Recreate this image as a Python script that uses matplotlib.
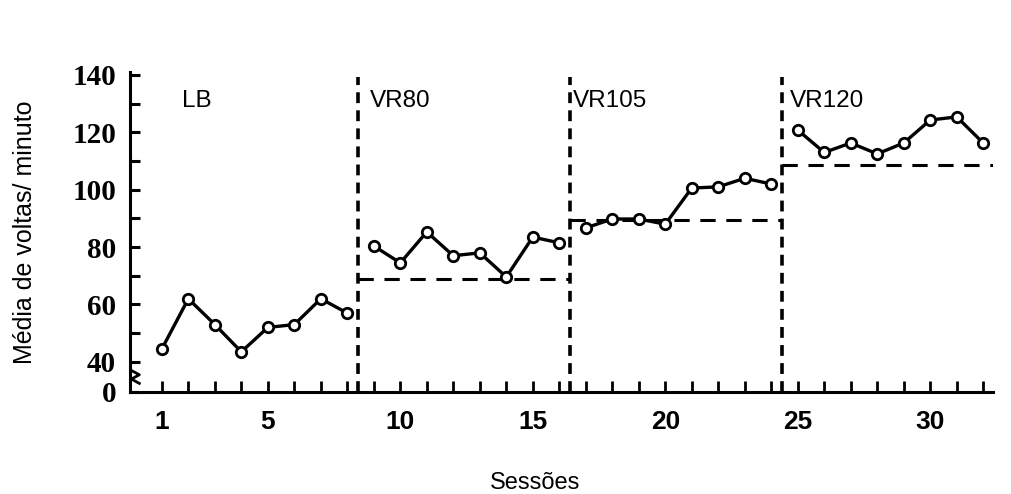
import matplotlib.pyplot as plt
from matplotlib.ticker import FixedLocator

# Sessions and mean laps per minute, one list per phase
PHASES = ["LB", "VR80", "VR105", "VR120"]
SESSIONS = [
    [1, 2, 3, 4, 5, 6, 7, 8],
    [9, 10, 11, 12, 13, 14, 15, 16],
    [17, 18, 19, 20, 21, 22, 23, 24],
    [25, 26, 27, 28, 29, 30, 31, 32],
]
LB_VALUES = [44.5, 62, 53, 43.5, 52, 53, 62, 57]
VR80_VALUES = [80.4, 74.5, 85.3, 77, 78, 69.6, 83.5, 81.5]
VR105_VALUES = [86.7, 89.8, 89.8, 88, 100.6, 101, 104, 102]
VR120_VALUES = [120.8, 113, 116.3, 112.5, 116.3, 124.3, 125.4, 116.3]
VALUES = [LB_VALUES, VR80_VALUES, VR105_VALUES, VR120_VALUES]

# phase change lines and criterion levels
PHASE_CHANGES = [8.4, 16.4, 24.4]
CRITERIA = [None, 69, 89.5, 108.6]

Y_TICKS = [40, 60, 80, 100, 120, 140]
X_TICK_LABELS = [1, 5, 10, 15, 20, 25, 30]
ZERO_POS = 29.5  # broken axis: "0" drawn just below 40

XMIN, XMAX = -0.2, 32.36
YMIN, YMAX = ZERO_POS, 141

fig = plt.figure(figsize=(10.12, 4.94), dpi=100)
ax = fig.add_axes([0.1285, 0.2065, 0.8525, 0.6475])
ax.set_xlim(XMIN, XMAX)
ax.set_ylim(YMIN, YMAX)

bounds = [XMIN] + PHASE_CHANGES + [XMAX]
label_offsets = [1.95, 0.45, 0.1, 0.3]
for i, (xs, ys) in enumerate(zip(SESSIONS, VALUES)):
    ax.plot(xs, ys, color="black", lw=2.4, marker="o", ms=7.5,
            mfc="white", mec="black", mew=2.0, zorder=4)
    if CRITERIA[i] is not None:
        ax.hlines(CRITERIA[i], bounds[i], bounds[i + 1], color="black",
                  lw=2.2, linestyles=(0, (5, 3.5)), zorder=2)
    ax.text(bounds[i] + label_offsets[i], 131, PHASES[i],
            fontsize=17.5, family="Liberation Sans", va="center", ha="left")

for xc in PHASE_CHANGES:
    ax.vlines(xc, YMIN, 139.3, color="black", lw=2.6,
              linestyles=(0, (3, 2)), zorder=3)

for side in ["top", "right"]:
    ax.spines[side].set_visible(False)
for side in ["left", "bottom"]:
    ax.spines[side].set_linewidth(2.2)

ax.set_yticks([ZERO_POS] + Y_TICKS)
ax.set_yticklabels(["0"] + [str(v) for v in Y_TICKS],
                   family="Liberation Serif", fontweight="bold", fontsize=21)
ax.yaxis.set_minor_locator(FixedLocator([50, 70, 90, 110, 130]))
ax.tick_params(axis="y", which="both", direction="in", length=7, width=2.2, pad=10)

ax.set_xticks(range(1, 33))
ax.set_xticklabels([str(s) if s in X_TICK_LABELS else "" for s in range(1, 33)],
                   family="Liberation Sans", fontweight="bold")
ax.tick_params(axis="x", direction="in", length=8, width=2.0, pad=13,
               labelsize=19)

# axis break mark on the y axis
ax.plot([-0.15, 0.15, -0.15, 0.15], [37, 35.5, 34, 32.5], color="black",
        lw=2.0, clip_on=False, transform=ax.transData)

fig.text(0.025, 0.53, "Média de voltas/ minuto", rotation=90, ha="center",
         va="center", fontsize=18, family="Liberation Sans")
fig.text(0.529, 0.022, "Sessões", ha="center", va="center",
         fontsize=17, family="Liberation Sans")

fig.savefig("out.png", dpi=100)
